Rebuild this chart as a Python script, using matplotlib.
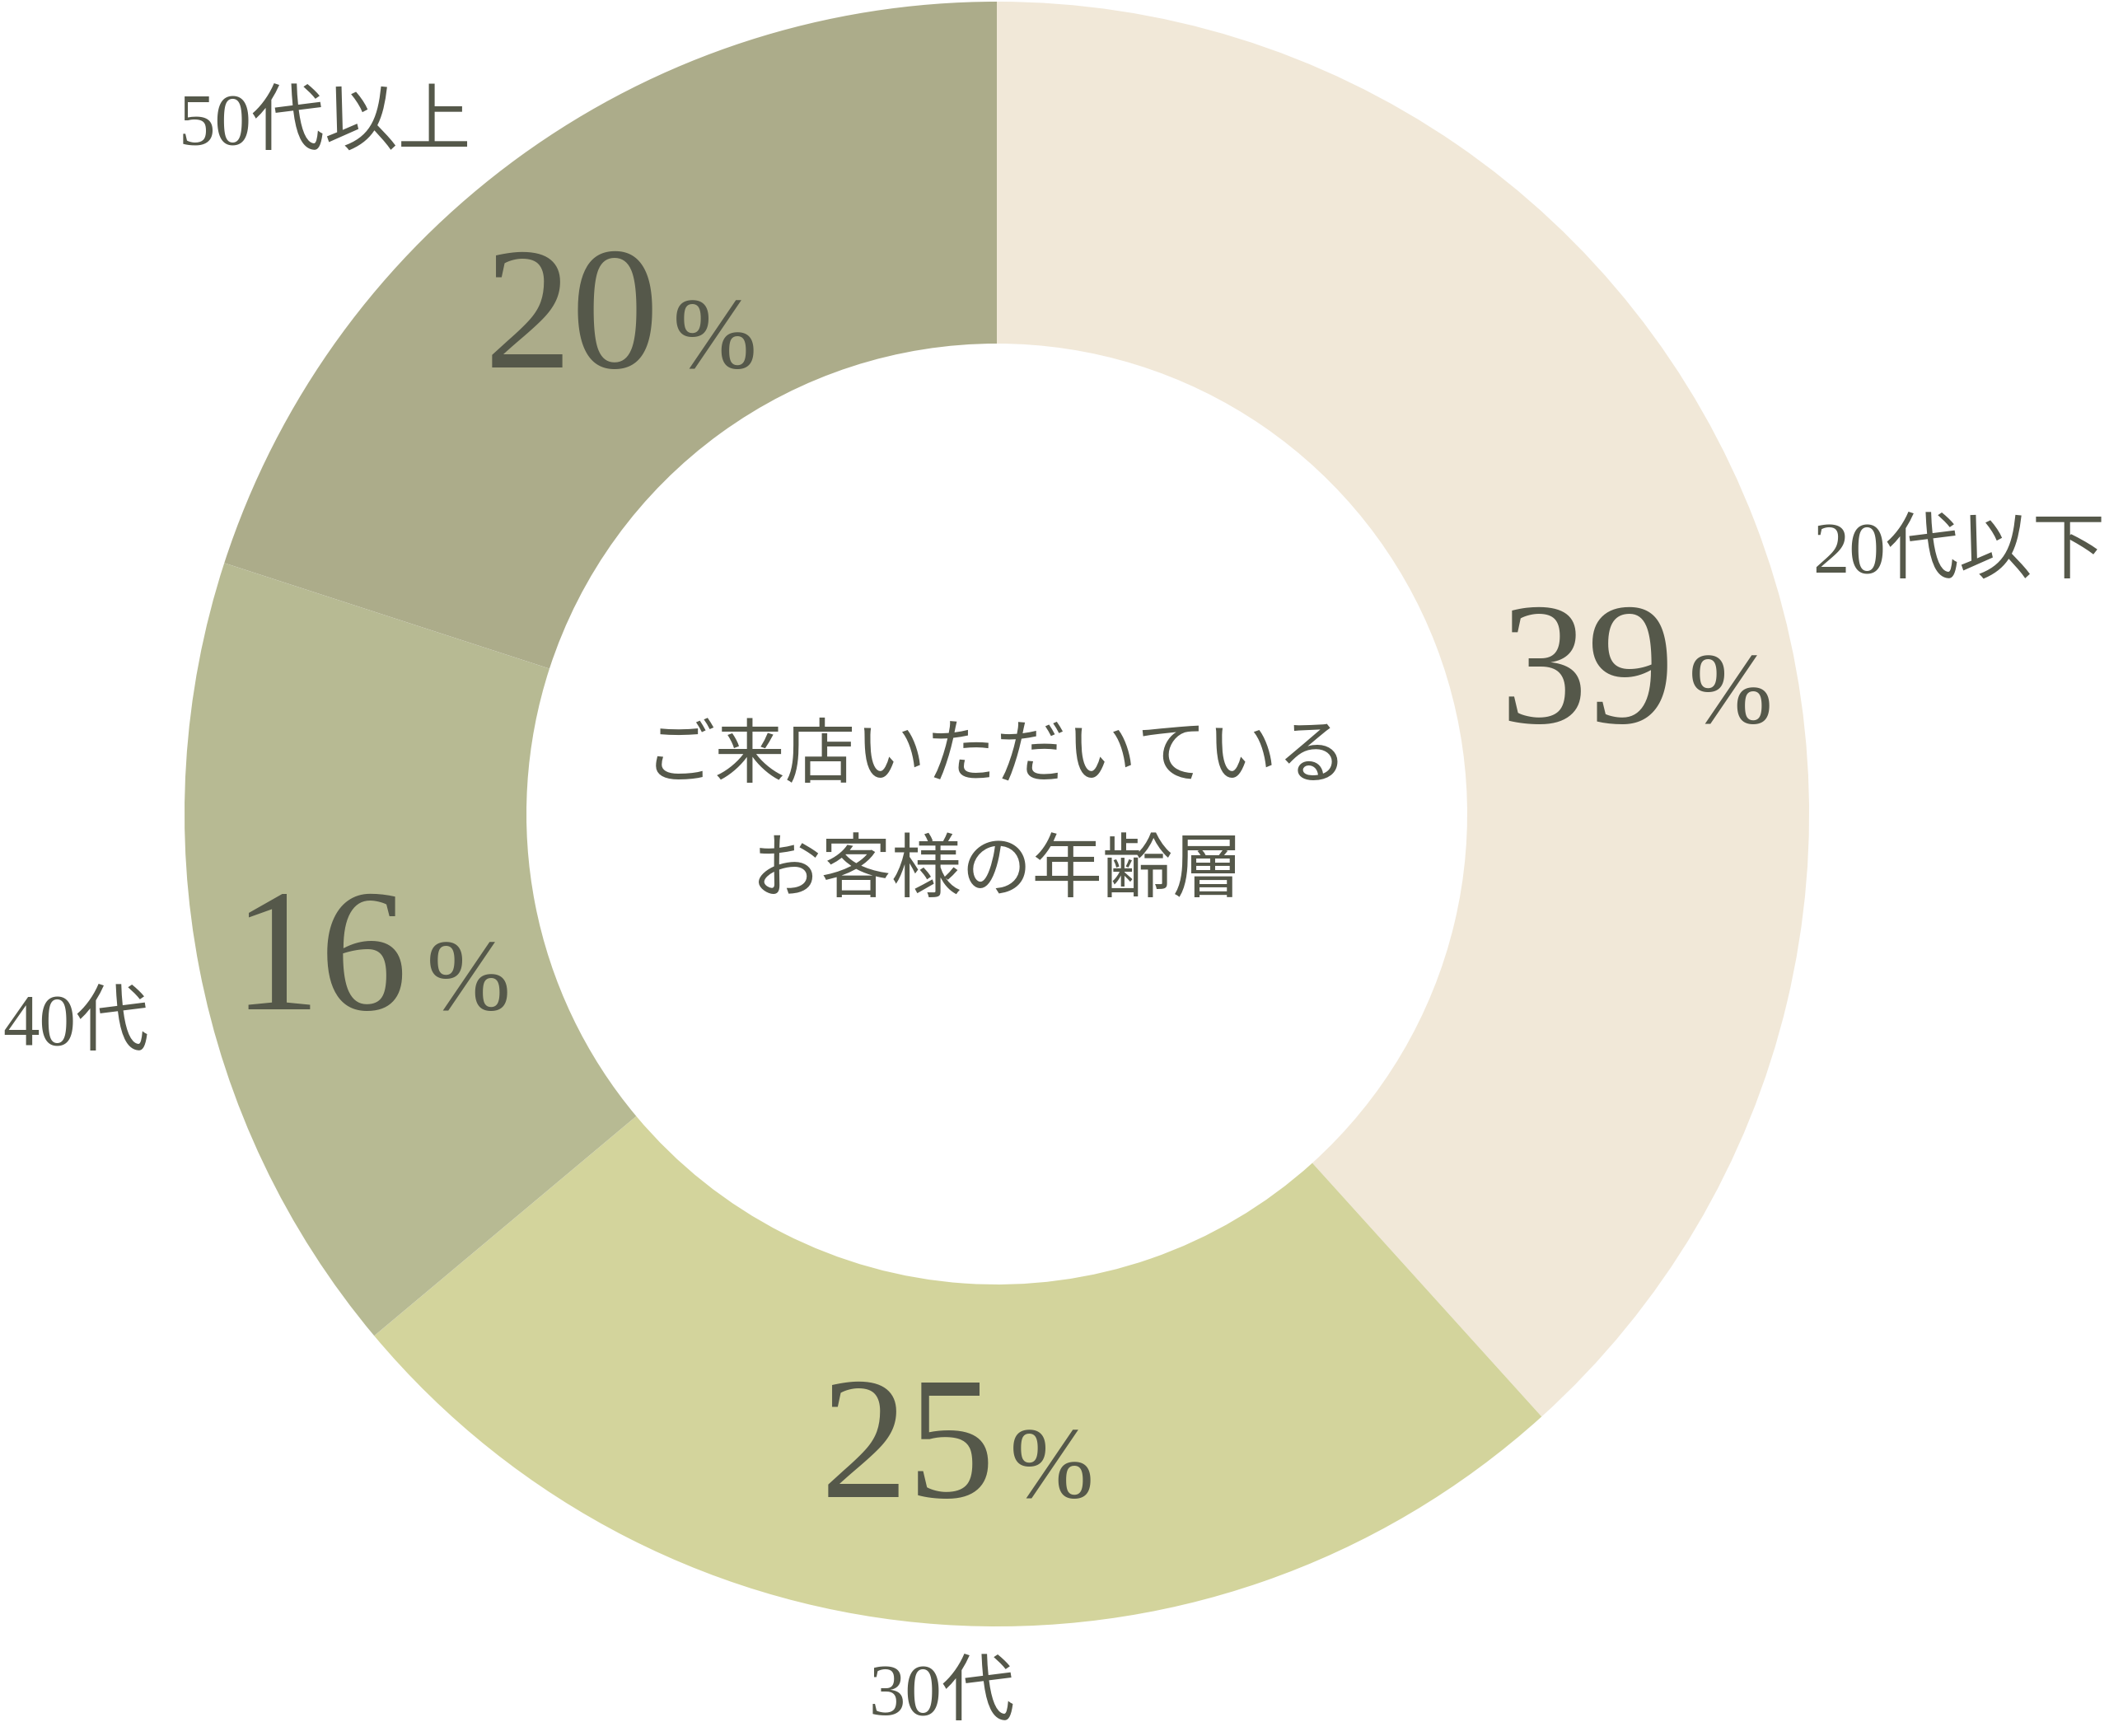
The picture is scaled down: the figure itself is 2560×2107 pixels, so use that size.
import matplotlib
matplotlib.use("Agg")
import matplotlib.pyplot as plt

# Age groups of visitors, clockwise from the top
groups = ["20代以下", "30代", "40代", "50代以上"]
drawn_share = [38.3, 25.6, 16.1, 20.0]
# percentages as printed on the ring
printed_pct = ["39", "25", "16", "20"]
colors = ["#F1E8D8", "#D3D49C", "#B7BA93", "#ACAC8A"]

center_lines = ["ご来店いただいている", "お客様の年齢層"]

TEXT_COLOR = "#55584A"
W, H = 2560, 2107
FAMILY = ["Liberation Serif", "Noto Sans CJK JP", "DejaVu Sans"]


def main():
    plt.rcParams["font.family"] = FAMILY

    fig = plt.figure(figsize=(W / 100, H / 100), dpi=100)
    ax = fig.add_axes([0, 0, 1, 1])

    # donut, pixel coordinates with y measured from the bottom
    outer_r, inner_r = 986, 571
    cx, cy = 1210, H - 988
    ax.pie(drawn_share,
           colors=colors,
           startangle=90,
           counterclock=False,
           radius=outer_r,
           center=(cx, cy),
           wedgeprops=dict(width=outer_r - inner_r, linewidth=0))

    ax.set_xlim(0, W)
    ax.set_ylim(0, H)
    ax.set_aspect("equal")
    ax.axis("off")

    # big percentages: number right edge, % left edge, baseline (px from top)
    pct_pos = [(2033, 2050, 877), (1208, 1226, 1817),
               (495, 518, 1225), (800, 817, 446)]
    for pct, (xr, xl, yb) in zip(printed_pct, pct_pos):
        ax.text(xr, H - yb, pct, ha="right", va="baseline",
                fontsize=153, color=TEXT_COLOR)
        ax.text(xl, H - yb, "%", ha="left", va="baseline",
                fontsize=88, color=TEXT_COLOR)

    # group names outside the ring
    label_pos = [(2200, 696), (1055, 2082), (3, 1269), (217, 176)]
    for name, (x, yb) in zip(groups, label_pos):
        ax.text(x, H - yb, name, ha="left", va="baseline",
                fontsize=64, color=TEXT_COLOR)

    # caption in the hole
    for line, y in zip(center_lines, [921, 1061]):
        ax.text(cx, H - y, line, ha="center", va="center",
                fontsize=61.5, color=TEXT_COLOR)

    fig.savefig("out.png", dpi=100, facecolor="white")
    plt.close(fig)


if __name__ == "__main__":
    main()
